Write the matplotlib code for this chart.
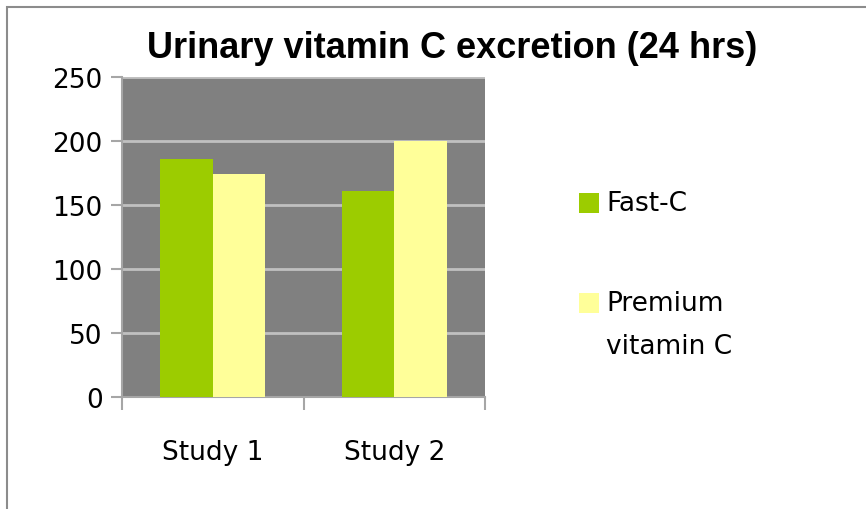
import numpy as np
import matplotlib.pyplot as plt
from matplotlib.patches import Rectangle

studies = ['Study 1', 'Study 2']
fast_c = [186, 161]
premium_c = [174, 200]
series_names = ['Fast-C', 'Premium\nvitamin C']
yticks = [0, 50, 100, 150, 200, 250]

green = '#9ccc00'
yellow = '#ffff99'
grey_bg = '#808080'
line_grey = '#a6a6a6'

fig = plt.figure(figsize=(8.66, 5.10), dpi=100)
fig.patches.append(Rectangle((7 / 866, -0.1), 1.1, 1 - 8 / 510 + 0.1,
                             transform=fig.transFigure, fill=False,
                             edgecolor='#8c8c8c', linewidth=1.5))

ax = fig.add_axes([122 / 866, 1 - 398 / 510, (485 - 122) / 866, (398 - 78) / 510])
ax.set_facecolor(grey_bg)

x = np.arange(len(studies))
w = 0.29
ax.bar(x - w / 2, fast_c, w, color=green, zorder=3)
ax.bar(x + w / 2, premium_c, w, color=yellow, zorder=3)

ax.set_xlim(-0.5, len(studies) - 0.5)
ax.set_ylim(0, 250)
ax.set_yticks(yticks)
ax.yaxis.grid(True, color='#c0c0c0', linewidth=2, zorder=1)

# tick marks sit between categories, labels in the middle
ax.set_xticks(np.arange(len(studies) + 1) - 0.5)
ax.set_xticklabels([])
ax.set_xticks(x, minor=True)
ax.set_xticklabels(studies, minor=True)
ax.tick_params(axis='x', which='minor', length=0, pad=30, labelsize=19)
ax.tick_params(axis='x', which='major', length=9, width=1.5, color=line_grey)
ax.tick_params(axis='y', length=8, width=1.5, color=line_grey, labelsize=19, pad=6)

for side in ['top', 'right']:
    ax.spines[side].set_visible(False)
for side in ['left', 'bottom']:
    ax.spines[side].set_color(line_grey)
    ax.spines[side].set_linewidth(1.5)

fig.text(452 / 866, 1 - 48 / 510, 'Urinary vitamin C excretion (24 hrs)',
         ha='center', va='center', fontsize=26, fontweight='bold',
         family='Liberation Sans')

# legend drawn by hand so the swatch lines up with the first text line
for name, col, ytop in zip(series_names, [green, yellow], [194, 294]):
    fig.patches.append(Rectangle((579 / 866, 1 - (ytop + 20) / 510), 20 / 866, 20 / 510,
                                 transform=fig.transFigure, facecolor=col,
                                 edgecolor='none'))
    for k, line in enumerate(name.split('\n')):
        fig.text(606 / 866, 1 - (ytop + 10 + 43 * k) / 510, line, ha='left',
                 va='center', fontsize=19)

fig.savefig('out.png', dpi=100)
